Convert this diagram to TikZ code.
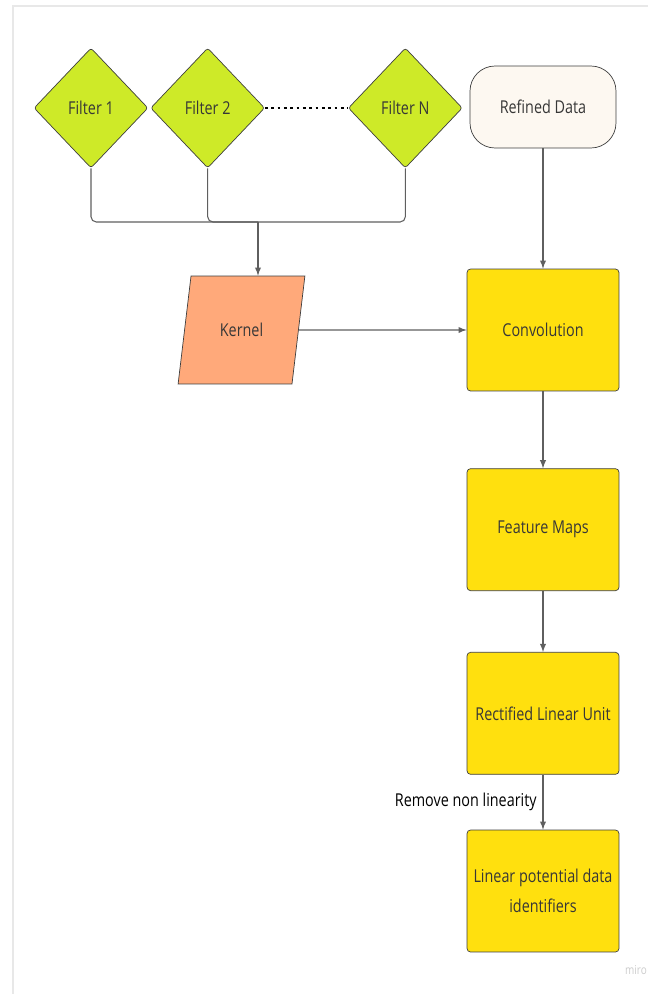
\documentclass[tikz,border=0pt]{standalone}
\usepackage{fontspec}
\setmainfont{Open Sans}[FakeStretch=0.81]
\usetikzlibrary{shapes.geometric,positioning}

\definecolor{limefill}{RGB}{206,234,40}
\definecolor{datafill}{RGB}{253,248,241}
\definecolor{kernelfill}{RGB}{255,169,122}
\definecolor{stepfill}{RGB}{255,224,14}
\definecolor{edgegray}{RGB}{62,62,62}
\definecolor{linegray}{RGB}{95,95,95}
\definecolor{textgray}{RGB}{55,55,55}

\begin{document}
\begin{tikzpicture}[x=0.02cm,y=-0.02cm,
    font=\fontsize{10.1}{17}\selectfont,
    filter/.style={diamond, draw=edgegray, fill=limefill, text=textgray,
        inner sep=0pt, minimum width=2.28cm, minimum height=2.4cm,
        rounded corners=1.5pt},
    stepbox/.style={rectangle, draw=edgegray, fill=stepfill, text=textgray,
        minimum width=3.04cm, minimum height=2.44cm, rounded corners=2pt,
        align=center},
    link/.style={draw=linegray, line width=0.6pt},
    >=latex]
    \useasboundingbox (0,0) rectangle (648,994);
    % Frame of the board
    \draw[gray!18, line width=0.8pt] (13,994) -- (13,6) -- (648,6);
    % Add the filters
    \node[filter] (f1) at (91,108) {Filter 1};
    \node[filter, right=0.04cm of f1] (f2) {Filter 2};
    \node[filter, right=1.66cm of f2] (fN) {Filter N};
    % Add the data and the steps
    \node[rectangle,
          draw=edgegray,
          fill=datafill,
          text=textgray,
          minimum width=2.92cm,
          minimum height=1.64cm,
          rounded corners=0.5cm] (data) at (543,107) {Refined Data};
    \node[trapezium,
          trapezium left angle=74.5,
          trapezium right angle=105.5,
          trapezium stretches=true,
          draw=edgegray,
          fill=kernelfill,
          text=textgray,
          minimum width=2.54cm,
          minimum height=2.16cm] (kernel) at (241.5,330) {Kernel};
    \node[stepbox] (conv) at (543,330) {Convolution};
    \node[stepbox, below=1.54cm of conv] (maps) {Feature Maps};
    \node[stepbox, below=1.22cm of maps] (relu) {Rectified Linear Unit};
    \node[stepbox, below=1.1cm of relu] (ident) {Linear potential data\\identifiers};
    \coordinate (bus) at (258,222);
    % Connect the nodes
    \draw[dotted, line width=1.6pt] (f2.east) -- (fN.west);
    \draw[link, rounded corners=3pt] (f1.south) |- (bus);
    \draw[link, rounded corners=3pt] (f2.south) |- (bus);
    \draw[link, rounded corners=3pt] (fN.south) |- (bus);
    \draw[link, ->] (bus) -- (bus |- kernel.north);
    \draw[link, ->] (kernel) -- (conv);
    \draw[link, ->] (data) -- (conv);
    \draw[link, ->] (conv) -- (maps);
    \draw[link, ->] (maps) -- (relu);
    \draw[link, ->] (relu) -- node[left, text=black] {Remove non linearity} (ident);
    % Watermark
    \node[text=gray!40, font=\fontsize{7}{8}\selectfont] (miro) at (636,970) {miro};
\end{tikzpicture}
\end{document}
